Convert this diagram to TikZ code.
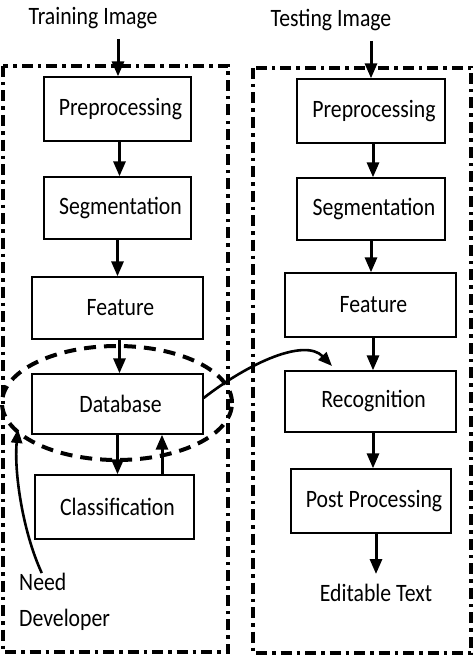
\documentclass[tikz,border=0pt]{standalone}
\usepackage{fontspec}
\setmainfont{Carlito}[FakeStretch=0.87]
\usetikzlibrary{arrows.meta,positioning,calc}
\tikzset{
  box/.style={draw,line width=1.3pt,inner sep=0pt,font=\fontsize{25}{28}\selectfont},
  lbl/.style={inner sep=0pt,font=\fontsize{25}{28}\selectfont},
  frame/.style={line width=4pt,dash pattern=on 11pt off 5pt on 3.5pt off 5pt},
  arr/.style={line width=3pt,-{Triangle[length=15pt,width=12pt]}},
  curv/.style={line width=2.6pt,-{Triangle[length=14pt,width=11pt]}},
  dbring/.style={line width=4pt,dash pattern=on 12pt off 8pt}
}
\begin{document}
\begin{tikzpicture}[x=1pt,y=-1pt]
\useasboundingbox (0,0) rectangle (474,666);
% frames
\draw[frame] (3,66) rectangle (228,652);
\draw[frame] (253,68) rectangle (471,653);
% left column
\node[lbl] (ti) at (93,18) {Training Image};
\node[box,minimum width=147pt,minimum height=64pt] (lp) at (117.5,109) {\hspace{6pt}Preprocessing};
\node[box,minimum width=147pt,minimum height=62pt] (ls) at (117.5,208) {\hspace{6pt}Segmentation};
\node[box,minimum width=171pt,minimum height=62pt] (lf) at (117.5,308) {\hspace{6pt}Feature};
\node[box,minimum width=171pt,minimum height=60pt] (db) at (117.5,404) {\hspace{6pt}Database};
\node[box,minimum width=159pt,minimum height=64pt] (cl) at (114.5,507) {\hspace{6pt}Classification};
\node[lbl,anchor=west] (need) at (19,582) {Need};
\node[lbl,anchor=west] (dev) at (19,620) {Developer};
% right column
\node[lbl] (te) at (331,20) {Testing Image};
\node[box,minimum width=148pt,minimum height=64pt] (rp) at (371,111) {\hspace{6pt}Preprocessing};
\node[box,minimum width=148pt,minimum height=62pt] (rs) at (371,209) {\hspace{6pt}Segmentation};
\node[box,minimum width=171pt,minimum height=64pt] (rf) at (370.5,305) {\hspace{6pt}Feature};
\node[box,minimum width=171pt,minimum height=61pt] (rr) at (370.5,401.5) {\hspace{6pt}Recognition};
\node[box,minimum width=160pt,minimum height=64pt] (rpp) at (371,501) {\hspace{6pt}Post Processing};
\node[lbl] (et) at (376,593) {Editable Text};
% ellipse around database
\draw[dbring] (117,403) ellipse [x radius=115pt, y radius=57pt];
% arrows left
\draw[arr] ([yshift=-10pt]ti.south -| lp.north) ++(0.5,0) -- ([xshift=0.5pt]lp.north);
\draw[arr] ([xshift=2pt]lp.south) -- ([xshift=2pt]ls.north);
\draw[arr] (ls.south) -- (lf.north);
\draw[arr] ([xshift=2pt]lf.south) -- ([xshift=2pt]db.north);
\draw[arr] (db.south) -- (db.south |- cl.north);
\draw[arr] ([xshift=44.5pt]db.south |- cl.north) -- ([xshift=44.5pt]db.south);
% arrows right
\draw[arr] ([yshift=-10pt]te.south -| rp.north) -- (rp.north);
\draw[arr] ([xshift=2pt]rp.south) -- ([xshift=2pt]rs.north);
\draw[arr] (rs.south) -- (rs.south |- rf.north);
\draw[arr] ([xshift=2.5pt]rf.south) -- ([xshift=2.5pt]rr.north);
\draw[arr] ([xshift=2.5pt]rr.south) -- ([xshift=2.5pt]rr.south |- rpp.north);
\draw[arr] ([xshift=5pt]rpp.south) -- ([yshift=10pt]et.north);
% curved arrows
\coordinate (rtip) at (332,366);
\draw[curv] (db.east) ++(0,-6) .. controls (250,362) and (305,338) .. (rtip);
\coordinate (ntip) at (18,429);
\draw[curv] ([xshift=-1pt]need.north) .. controls (22,530) and (14,470) .. (ntip);
\end{tikzpicture}
\end{document}
